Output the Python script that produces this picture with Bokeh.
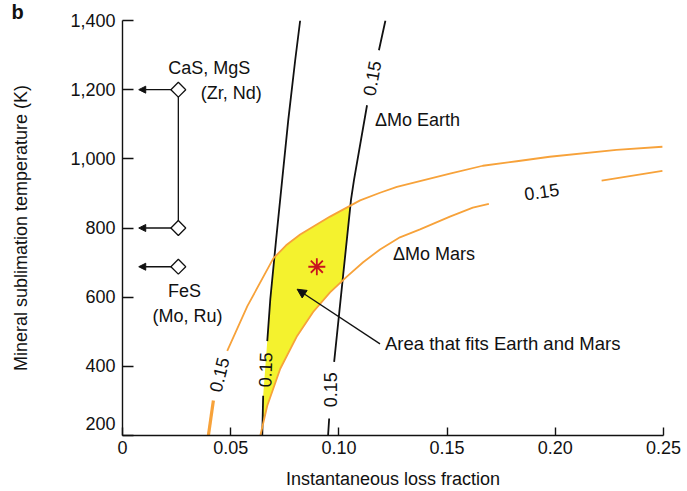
import numpy as np
from bokeh.plotting import figure
from bokeh.models import Label, Arrow, NormalHead, FixedTicker
from bokeh.embed import file_html
from bokeh.resources import INLINE

FONT = "Liberation Sans"
FS = "18px"
NAN = float("nan")

# Delta-Mo contour curves (loss fraction, temperature K); NaN marks the gap left for the contour label
earth_lo_x = [0.0646, 0.0650, NAN, 0.0669, 0.0683, 0.0710, 0.0738, 0.0766, 0.0798, 0.0821]
earth_lo_y = [200, 315, NAN, 473, 594, 767, 940, 1112, 1285, 1400]

earth_hi_x = [0.0950, 0.0955, NAN, 0.0978, 0.1019, 0.1056, 0.1070, 0.1130, NAN, 0.1185, 0.1215]
earth_hi_y = [200, 249, NAN, 413, 660, 882, 940, 1155, NAN, 1314, 1400]

mars_up_x = [0.0397, 0.0420, NAN, 0.0484, 0.0577, 0.0697, 0.0756, 0.0821, 0.0959, 0.1098, 0.1190,
             0.1268, 0.1513, 0.1665, 0.1822, 0.1974, 0.2283, 0.2495]
mars_up_y = [200, 301, NAN, 445, 574, 712, 750, 781, 833, 880, 902,
             919, 957, 980, 993, 1006, 1026, 1035]

mars_lo_x = [0.0637, 0.0669, 0.0729, 0.0807, 0.0881, 0.0959, 0.1038, 0.1112, 0.1190,
             0.1282, 0.1375, 0.1513, 0.1619, 0.1693, NAN, 0.2214, 0.2495]
mars_lo_y = [200, 286, 393, 488, 557, 614, 660, 701, 738,
             773, 796, 833, 859, 870, NAN, 937, 965]

# Best-fit point
best_x = [0.0898]
best_y = [688]

# Mineral sublimation temperatures
mineral_x = 0.0258
mineral_temps = [1200, 800, 688]

x_ticks = [0, 0.05, 0.10, 0.15, 0.20, 0.25]
x_tick_labels = ["0", "0.05", "0.10", "0.15", "0.20", "0.25"]
y_ticks = [200, 400, 600, 800, 1000, 1200, 1400]
# the lowest label sits a little above its tick, clear of the corner
y_tick_labels = ["200\n ", "400", "600", "800", "1,000", "1,200", "1,400"]

BLACK = "#111111"
ORANGE = "#f7a23a"
YELLOW = "#f4f22e"
RED = "#c8141e"

p = figure(width=687, height=491, x_range=(0, 0.25), y_range=(200, 1400),
           output_backend="svg", toolbar_location=None,
           min_border_left=122, min_border_right=24, min_border_top=20, min_border_bottom=54)
p.outline_line_color = None
p.xgrid.visible = False
p.ygrid.visible = False
p.background_fill_color = "white"
p.border_fill_color = "white"

# Panel letter
p.title.text = "b"
p.title.align = "left"
p.title.offset = -111
p.title.standoff = -4
p.title.text_font = FONT
p.title.text_font_size = "20px"
p.title.text_font_style = "bold"
p.title.text_color = BLACK

# Axes
p.xaxis.ticker = FixedTicker(ticks=x_ticks)
p.xaxis.major_label_overrides = {t: l for t, l in zip(x_ticks, x_tick_labels)}
p.yaxis.ticker = FixedTicker(ticks=y_ticks)
p.yaxis.major_label_overrides = {t: l for t, l in zip(y_ticks, y_tick_labels)}
for ax in (p.xaxis[0], p.yaxis[0]):
    ax.axis_line_color = BLACK
    ax.axis_line_width = 1.4
    ax.major_tick_line_color = BLACK
    ax.major_tick_line_width = 1.4
    ax.major_tick_out = 0
    ax.minor_tick_line_color = None
    ax.major_label_text_font = FONT
    ax.major_label_text_font_size = FS
    ax.major_label_text_color = BLACK
    ax.axis_label_text_font = FONT
    ax.axis_label_text_font_size = FS
    ax.axis_label_text_font_style = "normal"
    ax.axis_label_text_color = BLACK
p.xaxis.major_tick_in = 8
p.yaxis.major_tick_in = 11
p.xaxis.major_label_standoff = 5
p.yaxis.major_label_standoff = 7
p.xaxis.axis_label = "Instantaneous loss fraction"
p.xaxis.axis_label_standoff = 12
p.yaxis.axis_label = "Mineral sublimation temperature (K)"
p.yaxis.axis_label_standoff = 36

# Region consistent with both planets: between the Earth contours and the Mars contours
def clean(xs, ys):
    xs = np.array(xs, dtype=float)
    ys = np.array(ys, dtype=float)
    m = ~np.isnan(xs)
    return xs[m], ys[m]

elx, ely = clean(earth_lo_x, earth_lo_y)
ehx, ehy = clean(earth_hi_x, earth_hi_y)
mux, muy = clean(mars_up_x, mars_up_y)
mlx, mly = clean(mars_lo_x, mars_lo_y)

ys = np.linspace(200, 1400, 1201)
left = np.maximum(np.interp(ys, ely, elx), np.interp(ys, muy, mux, right=np.inf))
right = np.minimum(np.interp(ys, ehy, ehx), np.interp(ys, mly, mlx, right=np.inf))
right = np.where(right > left, right, left)
left = np.where(np.isfinite(left), left, 0.0)
right = np.where(np.isfinite(right), right, left)
p.harea(y=ys, x1=left, x2=right, fill_color=YELLOW, fill_alpha=1.0)

# Contour lines
p.line(earth_lo_x, earth_lo_y, line_color=BLACK, line_width=1.8, line_join="round")
p.line(earth_hi_x, earth_hi_y, line_color=BLACK, line_width=1.8, line_join="round")
p.line(mars_up_x[:2], mars_up_y[:2], line_color=ORANGE, line_width=3.2)
p.line(mars_up_x[3:], mars_up_y[3:], line_color=ORANGE, line_width=1.8, line_join="round")
p.line(mars_lo_x, mars_lo_y, line_color=ORANGE, line_width=1.8, line_join="round")

# Contour value labels
contour_labels = [
    (0.0660, 390, 88),
    (0.0963, 332, 90),
    (0.1153, 1233, 80),
    (0.0447, 376, 76),
    (0.1937, 905, 8),
]
for lx, ly, ang in contour_labels:
    p.add_layout(Label(x=lx, y=ly, text="0.15", angle=np.deg2rad(ang),
                       text_align="center", text_baseline="middle",
                       text_font=FONT, text_font_size=FS, text_color=BLACK))

# Best-fit marker
p.scatter(best_x, best_y, marker="asterisk", size=17, line_color=RED, line_width=1.8)

# Curve names
p.add_layout(Label(x=0.1167, y=1112, text="\u0394Mo Earth", text_align="left",
                   text_baseline="middle", text_font=FONT, text_font_size=FS,
                   text_color=BLACK))
p.add_layout(Label(x=0.1250, y=724, text="\u0394Mo Mars", text_align="left",
                   text_baseline="middle", text_font=FONT, text_font_size=FS,
                   text_color=BLACK))

# Pointer to the shaded region
p.add_layout(Arrow(end=NormalHead(size=9, fill_color=BLACK, line_color=BLACK),
                   x_start=0.1190, y_start=465, x_end=0.0807, y_end=623,
                   line_color=BLACK, line_width=1.3))
p.add_layout(Label(x=0.1213, y=465, text="Area that fits Earth and Mars", text_align="left",
                   text_baseline="middle", text_font=FONT, text_font_size="18.5px",
                   text_color=BLACK))

# Mineral sublimation temperatures with arrows to the axis
p.line([mineral_x, mineral_x], [mineral_temps[0], mineral_temps[1]], line_color=BLACK, line_width=1.3)
for t in mineral_temps:
    p.add_layout(Arrow(end=NormalHead(size=7, fill_color=BLACK, line_color=BLACK),
                       x_start=mineral_x - 0.0032, y_start=t, x_end=0.0075, y_end=t,
                       line_color=BLACK, line_width=1.3))
p.scatter([mineral_x] * 3, mineral_temps, marker="square", angle=np.pi / 4, size=10.5,
          fill_color="white", line_color=BLACK, line_width=1.3)

mineral_text = [
    (0.0401, 1262, "CaS, MgS"),
    (0.0503, 1190, "(Zr, Nd)"),
    (0.0286, 617, "FeS"),
    (0.0300, 545, "(Mo, Ru)"),
]
for tx, ty, s in mineral_text:
    p.add_layout(Label(x=tx, y=ty, text=s, text_align="center", text_baseline="middle",
                       text_font=FONT, text_font_size=FS, text_color=BLACK))

open("out.html", "w").write(file_html(p, INLINE))
